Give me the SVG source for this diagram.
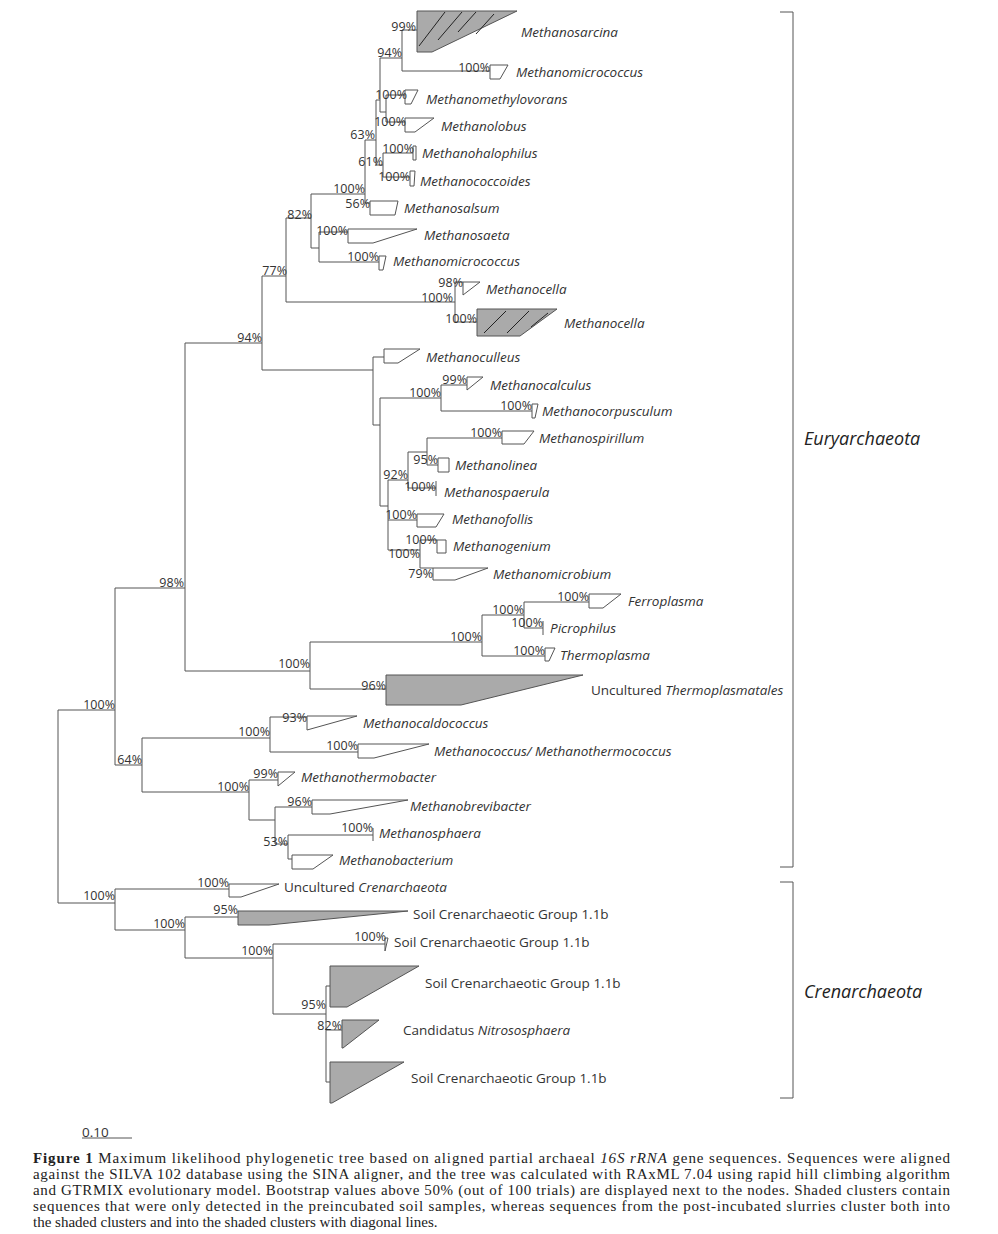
<svg xmlns="http://www.w3.org/2000/svg" width="998" height="1234" viewBox="0 0 998 1234">
<style>
.b{stroke:#555;stroke-width:1;fill:none}
.c{stroke:#555;stroke-width:1;fill:#fff}
.s{stroke:#555;stroke-width:1;fill:#aaa}
.h{stroke:#222;stroke-width:1}
.p{font-family:"Open Sans",sans-serif;font-size:12.5px;fill:#333;text-anchor:end}
.n{font-family:"Open Sans",sans-serif;font-size:13.5px;fill:#333;font-style:italic}
.r{font-family:"Open Sans",sans-serif;font-size:13.5px;fill:#333}
.g{font-family:"Open Sans",sans-serif;font-size:18px;fill:#222;font-style:italic}
.cap{font-family:"Liberation Serif",serif;font-size:15px;fill:#222}
</style>
<rect width="998" height="1234" fill="#fff"/>
<g id="connectors">
<path class="b" d="M58 710V903M58 710H115M115 588V765M115 588H185M185 343V671M185 343H262M262 276V370M262 276H286M286 218V302M286 218H311M311 194V248M311 194H365M365 140V203M365 203H370M365 140H376M376 100V165M376 100H380M380 58V112M380 58H402M402 30V71M402 30H417M402 71H490M380 112H386M386 95V122M386 95H405M386 122H405M376 165H383M383 153V177M383 153H413M383 177H410M311 248H319M319 232V262M319 232H348M319 262H379M286 302H455M455 282V322M455 282H463M455 322H477"/>
<path class="b" d="M262 370H373M373 357V425M373 357H384M373 425H380M380 398V506M380 398H441M441 385V411M441 385H467M441 411H532M380 506H388M388 480V550M388 480H408M408 452V488M408 452H427M427 438V465M427 438H502M427 465H438M408 488H436M388 520H417M388 550H420M420 540V568M420 540H437M420 568H433"/>
<path class="b" d="M185 671H310M310 642V689M310 642H482M482 615V656M482 615H524M524 602V628M524 602H589M524 628H543M482 656H545M310 689H386"/>
<path class="b" d="M115 765H142M142 738V792M142 738H270M270 717V752M270 717H307M270 752H358M142 792H249M249 780V820M249 780H278M249 820H275M275 807V844M275 807H312M275 844H288M288 835V859M288 835H373M288 859H292"/>
<path class="b" d="M58 903H115M115 889V930M115 889H229M115 930H185M185 917V958M185 917H238M185 958H273M273 944V1014M273 944H385M273 1014H326M326 986V1082M326 986H330M326 1030H342M326 1082H330"/>
<path class="b" d="M780 12H793V867H780M780 882H793V1098H780"/>
<path class="b" d="M82 1138H132"/>
</g>
<g id="clades">
<polygon class="s" points="417,11 517,11 432,52 417,52"/>
<path class="h" d="M419,46 445,12M438,40 462,12M458,32 476,12M476,34 494,14"/>
<polygon class="c" points="490,65 508,65 500,79 490,79"/>
<polygon class="c" points="405,90 418,90 411,104 405,104"/>
<polygon class="c" points="405,118 434,118 415,132 405,132"/>
<polygon class="c" points="413,146 416,146 416,160 413,160"/>
<polygon class="c" points="410,171 415,171 414,186 410,186"/>
<polygon class="c" points="370,201 398,201 395,215 370,215"/>
<polygon class="c" points="348,229 417,229 373,243 348,243"/>
<polygon class="c" points="379,256 386,256 383,270 379,270"/>
<polygon class="c" points="463,282 480,282 463,295"/>
<polygon class="s" points="477,309 557,309 520,336 477,336"/>
<path class="h" d="M484,333 506,311M507,333 529,311M531,327 548,313"/>
<polygon class="c" points="384,349 420,349 398,363 384,363"/>
<polygon class="c" points="467,377 483,377 467,390"/>
<polygon class="c" points="532,404 538,404 535,418 532,418"/>
<polygon class="c" points="502,431 534,431 524,444 502,444"/>
<polygon class="c" points="438,458 449,458 449,472 438,472"/>
<path class="b" d="M436 481V496"/>
<polygon class="c" points="417,514 444,514 436,527 417,527"/>
<polygon class="c" points="437,540 446,540 446,553 437,553"/>
<polygon class="c" points="433,568 488,568 455,580 433,580"/>
<polygon class="c" points="589,594 621,594 603,608 589,608"/>
<path class="b" d="M543 621V635"/>
<polygon class="c" points="545,648 555,648 549,661 545,661"/>
<polygon class="s" points="386,675 583,675 461,705 386,705"/>
<polygon class="c" points="307,716 357,716 307,730"/>
<polygon class="c" points="358,744 429,744 374,758 358,758"/>
<polygon class="c" points="278,772 295,772 278,786"/>
<polygon class="c" points="312,800 408,800 330,814 312,814"/>
<path class="b" d="M373 828V841"/>
<polygon class="c" points="292,855 333,855 313,869 292,869"/>
<polygon class="c" points="229,884 279,884 241,897 229,897"/>
<polygon class="s" points="238,911 408,911 269,925 238,925"/>
<polygon class="c" points="385,938 388,938 385,951"/>
<polygon class="s" points="330,966 419,966 347,1007 330,1007"/>
<polygon class="s" points="342,1020 379,1020 343,1048 342,1048"/>
<polygon class="s" points="330,1062 404,1062 332,1103 330,1103"/>
</g>
<g id="bootstrap">
<text class="p" x="416" y="31">99%</text><text class="p" x="402" y="57">94%</text>
<text class="p" x="490" y="72">100%</text><text class="p" x="407" y="99">100%</text>
<text class="p" x="406" y="126">100%</text><text class="p" x="375" y="139">63%</text>
<text class="p" x="414" y="153">100%</text><text class="p" x="383" y="166">61%</text>
<text class="p" x="410" y="181">100%</text><text class="p" x="365" y="193">100%</text>
<text class="p" x="370" y="208">56%</text><text class="p" x="312" y="219">82%</text>
<text class="p" x="348" y="235">100%</text><text class="p" x="379" y="261">100%</text>
<text class="p" x="287" y="275">77%</text><text class="p" x="463" y="287">98%</text>
<text class="p" x="453" y="302">100%</text><text class="p" x="477" y="323">100%</text>
<text class="p" x="262" y="342">94%</text>
<text class="p" x="467" y="384">99%</text><text class="p" x="441" y="397">100%</text>
<text class="p" x="532" y="410">100%</text><text class="p" x="502" y="437">100%</text>
<text class="p" x="438" y="464">95%</text><text class="p" x="408" y="479">92%</text>
<text class="p" x="436" y="491">100%</text><text class="p" x="417" y="519">100%</text>
<text class="p" x="437" y="544">100%</text><text class="p" x="420" y="558">100%</text>
<text class="p" x="433" y="578">79%</text>
<text class="p" x="184" y="587">98%</text><text class="p" x="589" y="601">100%</text>
<text class="p" x="524" y="614">100%</text><text class="p" x="543" y="627">100%</text>
<text class="p" x="482" y="641">100%</text><text class="p" x="545" y="655">100%</text>
<text class="p" x="310" y="668">100%</text><text class="p" x="386" y="690">96%</text>
<text class="p" x="115" y="709">100%</text><text class="p" x="307" y="722">93%</text>
<text class="p" x="270" y="736">100%</text><text class="p" x="358" y="750">100%</text>
<text class="p" x="142" y="764">64%</text><text class="p" x="278" y="778">99%</text>
<text class="p" x="249" y="791">100%</text><text class="p" x="312" y="806">96%</text>
<text class="p" x="373" y="832">100%</text><text class="p" x="288" y="846">53%</text>
<text class="p" x="229" y="887">100%</text><text class="p" x="115" y="900">100%</text>
<text class="p" x="238" y="914">95%</text><text class="p" x="185" y="928">100%</text>
<text class="p" x="386" y="941">100%</text><text class="p" x="273" y="955">100%</text>
<text class="p" x="326" y="1009">95%</text><text class="p" x="342" y="1030">82%</text>
</g>
<g id="names">
<text class="n" x="521" y="37">Methanosarcina</text>
<text class="n" x="516" y="77">Methanomicrococcus</text>
<text class="n" x="426" y="104">Methanomethylovorans</text>
<text class="n" x="441" y="131">Methanolobus</text>
<text class="n" x="422" y="158">Methanohalophilus</text>
<text class="n" x="420" y="186">Methanococcoides</text>
<text class="n" x="404" y="213">Methanosalsum</text>
<text class="n" x="424" y="240">Methanosaeta</text>
<text class="n" x="393" y="266">Methanomicrococcus</text>
<text class="n" x="486" y="294">Methanocella</text>
<text class="n" x="564" y="328">Methanocella</text>
<text class="n" x="426" y="362">Methanoculleus</text>
<text class="n" x="490" y="390">Methanocalculus</text>
<text class="n" x="542" y="416">Methanocorpusculum</text>
<text class="n" x="539" y="443">Methanospirillum</text>
<text class="n" x="455" y="470">Methanolinea</text>
<text class="n" x="444" y="497">Methanospaerula</text>
<text class="n" x="452" y="524">Methanofollis</text>
<text class="n" x="453" y="551">Methanogenium</text>
<text class="n" x="493" y="579">Methanomicrobium</text>
<text class="n" x="628" y="606">Ferroplasma</text>
<text class="n" x="550" y="633">Picrophilus</text>
<text class="n" x="560" y="660">Thermoplasma</text>
<text class="r" x="591" y="695">Uncultured <tspan font-style="italic">Thermoplasmatales</tspan></text>
<text class="n" x="363" y="728">Methanocaldococcus</text>
<text class="n" x="434" y="756">Methanococcus/ Methanothermococcus</text>
<text class="n" x="301" y="782">Methanothermobacter</text>
<text class="n" x="410" y="811">Methanobrevibacter</text>
<text class="n" x="379" y="838">Methanosphaera</text>
<text class="n" x="339" y="865">Methanobacterium</text>
<text class="r" x="284" y="892">Uncultured <tspan font-style="italic">Crenarchaeota</tspan></text>
<text class="r" x="413" y="919">Soil Crenarchaeotic Group 1.1b</text>
<text class="r" x="394" y="947">Soil Crenarchaeotic Group 1.1b</text>
<text class="r" x="425" y="988">Soil Crenarchaeotic Group 1.1b</text>
<text class="r" x="403" y="1035">Candidatus <tspan font-style="italic">Nitrososphaera</tspan></text>
<text class="r" x="411" y="1083">Soil Crenarchaeotic Group 1.1b</text>
<text class="g" x="804" y="445">Euryarchaeota</text>
<text class="g" x="804" y="998">Crenarchaeota</text>
<text class="r" x="82" y="1137" font-size="11.5">0.10</text>
</g>
<g id="caption" class="cap">
<text x="33" y="1163" textLength="917" lengthAdjust="spacing"><tspan font-weight="bold">Figure 1</tspan>   Maximum likelihood phylogenetic tree based on aligned partial archaeal <tspan font-style="italic">16S rRNA</tspan> gene sequences. Sequences were aligned</text>
<text x="33" y="1179" textLength="917" lengthAdjust="spacing">against the SILVA 102 database using the SINA aligner, and the tree was calculated with RAxML 7.04 using rapid hill climbing algorithm</text>
<text x="33" y="1195" textLength="917" lengthAdjust="spacing">and GTRMIX evolutionary model. Bootstrap values above 50% (out of 100 trials) are displayed next to the nodes. Shaded clusters contain</text>
<text x="33" y="1211" textLength="917" lengthAdjust="spacing">sequences that were only detected in the preincubated soil samples, whereas sequences from the post-incubated slurries cluster both into</text>
<text x="33" y="1227">the shaded clusters and into the shaded clusters with diagonal lines.</text>
</g>
</svg>
